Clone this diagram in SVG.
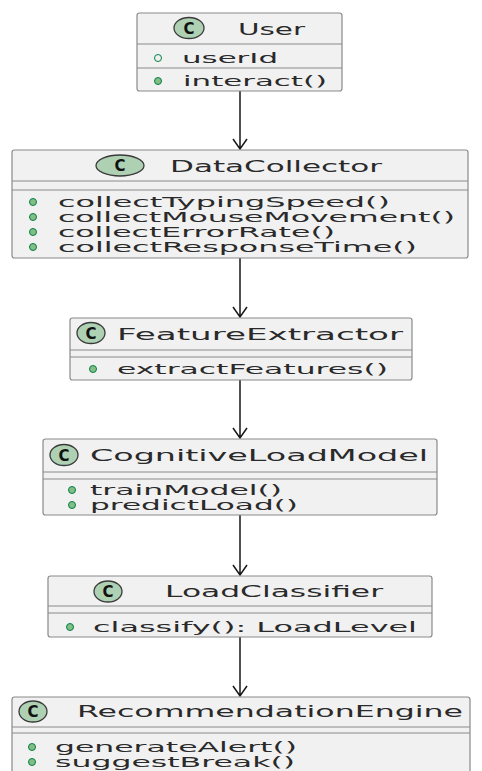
<svg xmlns="http://www.w3.org/2000/svg" width="482" height="771" viewBox="0 0 482 771">
<defs>
<style>
.box{fill:#f1f1f1;stroke:#8a8a8a;stroke-width:1.2}
.sep{stroke:#8a8a8a;stroke-width:1}
.ci{fill:#add1b2;stroke:#3a3a3a;stroke-width:1.3}
.cl{font-family:"DejaVu Sans",sans-serif;font-weight:bold;font-size:15px;fill:#111;text-anchor:middle}
.t{font-family:"DejaVu Sans",sans-serif;font-size:16px;fill:#2a2a2a}
.m{font-family:"DejaVu Sans",sans-serif;font-size:14px;fill:#2a2a2a}
.dot{fill:#84be84;stroke:#038048;stroke-width:1}
.hol{fill:none;stroke:#038048;stroke-width:1}
.ln{stroke:#181818;stroke-width:1.5;fill:none}
</style>
</defs>
<rect width="482" height="771" fill="#ffffff"/>
<g id="connectors">
<path class="ln" d="M240,91 V149 M233,139 L240,149 L247,139"/>
<path class="ln" d="M240,258 V317 M233,307 L240,317 L247,307"/>
<path class="ln" d="M240,380 V438 M233,428 L240,438 L247,428"/>
<path class="ln" d="M240,515 V575 M233,565 L240,575 L247,565"/>
<path class="ln" d="M240,637 V696 M233,686 L240,696 L247,686"/>
</g>
<g id="User">
<rect class="box" x="137" y="13" width="205" height="78" rx="2.5"/>
<line class="sep" x1="137" y1="44" x2="342" y2="44"/>
<line class="sep" x1="137" y1="68" x2="342" y2="68"/>
<ellipse class="ci" cx="189" cy="28" rx="15" ry="10.5"/>
<text class="cl" x="189" y="33.5">C</text>
<text class="t" x="238" y="35" textLength="67" lengthAdjust="spacingAndGlyphs">User</text>
<circle class="hol" cx="158" cy="58" r="3.5"/>
<text class="m" x="182" y="63" textLength="96" lengthAdjust="spacingAndGlyphs">userId</text>
<circle class="dot" cx="158" cy="81" r="3.5"/>
<text class="m" x="183" y="86" textLength="144" lengthAdjust="spacingAndGlyphs">interact()</text>
</g>
<g id="DataCollector">
<rect class="box" x="12" y="150" width="456" height="108" rx="2.5"/>
<line class="sep" x1="12" y1="181" x2="468" y2="181"/>
<line class="sep" x1="12" y1="190" x2="468" y2="190"/>
<ellipse class="ci" cx="120" cy="165.5" rx="24" ry="10.5"/>
<text class="cl" x="120" y="171">C</text>
<text class="t" x="170" y="172" textLength="212" lengthAdjust="spacingAndGlyphs">DataCollector</text>
<circle class="dot" cx="33" cy="202" r="3.5"/>
<text class="m" x="58" y="207" textLength="332" lengthAdjust="spacingAndGlyphs">collectTypingSpeed()</text>
<circle class="dot" cx="33" cy="217" r="3.5"/>
<text class="m" x="58" y="222" textLength="397" lengthAdjust="spacingAndGlyphs">collectMouseMovement()</text>
<circle class="dot" cx="33" cy="232" r="3.5"/>
<text class="m" x="58" y="237" textLength="277" lengthAdjust="spacingAndGlyphs">collectErrorRate()</text>
<circle class="dot" cx="33" cy="247" r="3.5"/>
<text class="m" x="58" y="252" textLength="359" lengthAdjust="spacingAndGlyphs">collectResponseTime()</text>
</g>
<g id="FeatureExtractor">
<rect class="box" x="70" y="318" width="342" height="62" rx="2.5"/>
<line class="sep" x1="70" y1="350" x2="412" y2="350"/>
<line class="sep" x1="70" y1="357" x2="412" y2="357"/>
<ellipse class="ci" cx="91" cy="333" rx="14" ry="10.5"/>
<text class="cl" x="91" y="338.5">C</text>
<text class="t" x="117" y="340" textLength="286" lengthAdjust="spacingAndGlyphs">FeatureExtractor</text>
<circle class="dot" cx="93" cy="369" r="3.5"/>
<text class="m" x="117" y="374" textLength="271" lengthAdjust="spacingAndGlyphs">extractFeatures()</text>
</g>
<g id="CognitiveLoadModel">
<rect class="box" x="43" y="439" width="394" height="76" rx="2.5"/>
<line class="sep" x1="43" y1="472" x2="437" y2="472"/>
<line class="sep" x1="43" y1="479" x2="437" y2="479"/>
<ellipse class="ci" cx="64" cy="455" rx="14" ry="10.5"/>
<text class="cl" x="64" y="460.5">C</text>
<text class="t" x="90" y="461" textLength="338" lengthAdjust="spacingAndGlyphs">CognitiveLoadModel</text>
<circle class="dot" cx="72" cy="490" r="3.5"/>
<text class="m" x="90" y="495" textLength="192" lengthAdjust="spacingAndGlyphs">trainModel()</text>
<circle class="dot" cx="72" cy="505" r="3.5"/>
<text class="m" x="90" y="510" textLength="208" lengthAdjust="spacingAndGlyphs">predictLoad()</text>
</g>
<g id="LoadClassifier">
<rect class="box" x="48" y="576" width="384" height="61" rx="2.5"/>
<line class="sep" x1="48" y1="606" x2="432" y2="606"/>
<line class="sep" x1="48" y1="613" x2="432" y2="613"/>
<ellipse class="ci" cx="108" cy="591.5" rx="14" ry="10.5"/>
<text class="cl" x="108" y="597">C</text>
<text class="t" x="165" y="597" textLength="218" lengthAdjust="spacingAndGlyphs">LoadClassifier</text>
<circle class="dot" cx="70" cy="627" r="3.5"/>
<text class="m" x="93" y="632" textLength="324" lengthAdjust="spacingAndGlyphs">classify(): LoadLevel</text>
</g>
<g id="RecommendationEngine">
<rect class="box" x="12" y="697" width="458" height="90" rx="2.5"/>
<line class="sep" x1="12" y1="727" x2="470" y2="727"/>
<line class="sep" x1="12" y1="733" x2="470" y2="733"/>
<ellipse class="ci" cx="33" cy="711.5" rx="14" ry="10.5"/>
<text class="cl" x="33" y="717">C</text>
<text class="t" x="77" y="717" textLength="386" lengthAdjust="spacingAndGlyphs">RecommendationEngine</text>
<circle class="dot" cx="32" cy="747" r="3.5"/>
<text class="m" x="55" y="752" textLength="242" lengthAdjust="spacingAndGlyphs">generateAlert()</text>
<circle class="dot" cx="32" cy="762" r="3.5"/>
<text class="m" x="55" y="767" textLength="240" lengthAdjust="spacingAndGlyphs">suggestBreak()</text>
</g>
</svg>
